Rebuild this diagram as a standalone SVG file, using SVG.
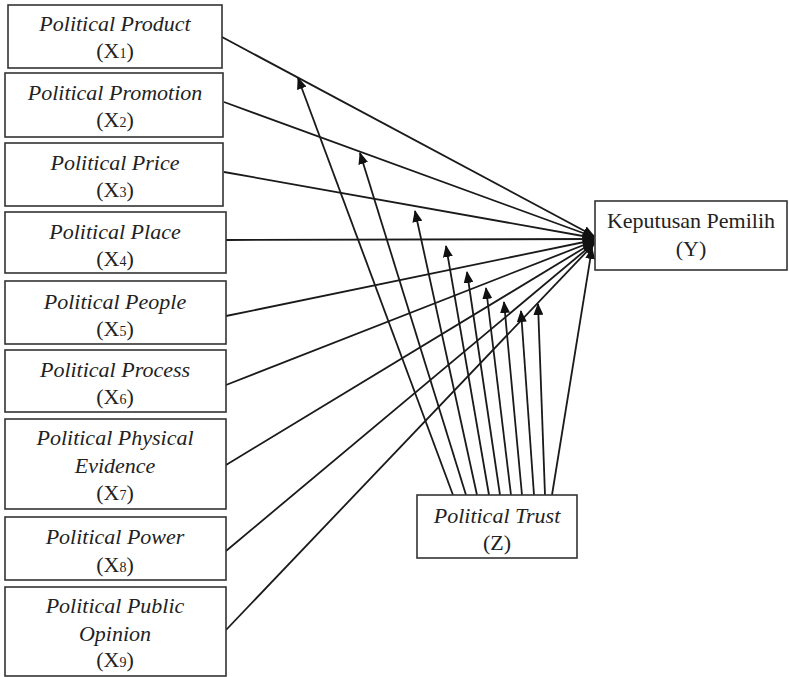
<svg xmlns="http://www.w3.org/2000/svg" width="789" height="677" viewBox="0 0 789 677">
<defs>
<style>
.box{fill:#fff;stroke:#333;stroke-width:1.6}
.it{font-family:"Liberation Serif","Times New Roman",serif;font-style:italic;font-size:22px;fill:#222;text-anchor:middle}
.rm{font-family:"Liberation Serif","Times New Roman",serif;font-size:22px;fill:#222;text-anchor:middle}
.sub{font-size:14px;font-style:normal}
.ln{stroke:#1a1a1a;stroke-width:1.8;fill:none;marker-end:url(#ah)}
</style>
<marker id="ah" markerUnits="userSpaceOnUse" markerWidth="12" markerHeight="10" refX="11" refY="5" orient="auto">
<path d="M0,0 L12,5 L0,10 Z" fill="#111"/>
</marker>
</defs>
<rect width="789" height="677" fill="#fff"/>
<g id="connectors">
<line class="ln" x1="222" y1="37" x2="594" y2="236"/>
<line class="ln" x1="224" y1="102" x2="594" y2="237"/>
<line class="ln" x1="224" y1="172" x2="594" y2="238"/>
<line class="ln" x1="226" y1="240" x2="594" y2="239"/>
<line class="ln" x1="226" y1="316" x2="594" y2="240"/>
<line class="ln" x1="226" y1="385" x2="594" y2="241"/>
<line class="ln" x1="226" y1="465" x2="594" y2="242"/>
<line class="ln" x1="226" y1="551" x2="594" y2="243"/>
<line class="ln" x1="226" y1="630" x2="594" y2="244"/>
<line class="ln" x1="453" y1="495" x2="298" y2="78"/>
<line class="ln" x1="466" y1="495" x2="360" y2="153"/>
<line class="ln" x1="477" y1="495" x2="415" y2="211"/>
<line class="ln" x1="489" y1="495" x2="446" y2="246"/>
<line class="ln" x1="500" y1="495" x2="467" y2="272"/>
<line class="ln" x1="511" y1="495" x2="486" y2="288"/>
<line class="ln" x1="522" y1="495" x2="504" y2="302"/>
<line class="ln" x1="534" y1="495" x2="521" y2="311"/>
<line class="ln" x1="545" y1="495" x2="538" y2="304"/>
<line class="ln" x1="552" y1="495" x2="592" y2="248"/>
</g>
<g id="x1"><rect class="box" x="8" y="5" width="214" height="63"/>
<text class="it" x="115" y="31">Political Product</text>
<text class="rm" x="115" y="58">(X<tspan class="sub">1</tspan>)</text></g>
<g id="x2"><rect class="box" x="5" y="73" width="218" height="64"/>
<text class="it" x="115" y="100">Political Promotion</text>
<text class="rm" x="115" y="127">(X<tspan class="sub">2</tspan>)</text></g>
<g id="x3"><rect class="box" x="5" y="143" width="218" height="63"/>
<text class="it" x="115" y="170">Political Price</text>
<text class="rm" x="115" y="197">(X<tspan class="sub">3</tspan>)</text></g>
<g id="x4"><rect class="box" x="5" y="212" width="221" height="61"/>
<text class="it" x="115" y="239">Political Place</text>
<text class="rm" x="115" y="266">(X<tspan class="sub">4</tspan>)</text></g>
<g id="x5"><rect class="box" x="5" y="281" width="221" height="63"/>
<text class="it" x="115" y="309">Political People</text>
<text class="rm" x="115" y="336">(X<tspan class="sub">5</tspan>)</text></g>
<g id="x6"><rect class="box" x="5" y="350" width="221" height="62"/>
<text class="it" x="115" y="377">Political Process</text>
<text class="rm" x="115" y="404">(X<tspan class="sub">6</tspan>)</text></g>
<g id="x7"><rect class="box" x="5" y="419" width="221" height="90"/>
<text class="it" x="115" y="445">Political Physical</text>
<text class="it" x="115" y="473">Evidence</text>
<text class="rm" x="115" y="500">(X<tspan class="sub">7</tspan>)</text></g>
<g id="x8"><rect class="box" x="5" y="517" width="221" height="63"/>
<text class="it" x="115" y="544">Political Power</text>
<text class="rm" x="115" y="572">(X<tspan class="sub">8</tspan>)</text></g>
<g id="x9"><rect class="box" x="5" y="587" width="221" height="89"/>
<text class="it" x="115" y="613">Political Public</text>
<text class="it" x="115" y="641">Opinion</text>
<text class="rm" x="115" y="667">(X<tspan class="sub">9</tspan>)</text></g>
<g id="y"><rect class="box" x="595" y="201" width="192" height="69"/>
<text class="rm" x="691" y="228">Keputusan Pemilih</text>
<text class="rm" x="691" y="256">(Y)</text></g>
<g id="z"><rect class="box" x="417" y="495" width="160" height="63"/>
<text class="it" x="497" y="523">Political Trust</text>
<text class="rm" x="497" y="550">(Z)</text></g>
</svg>
